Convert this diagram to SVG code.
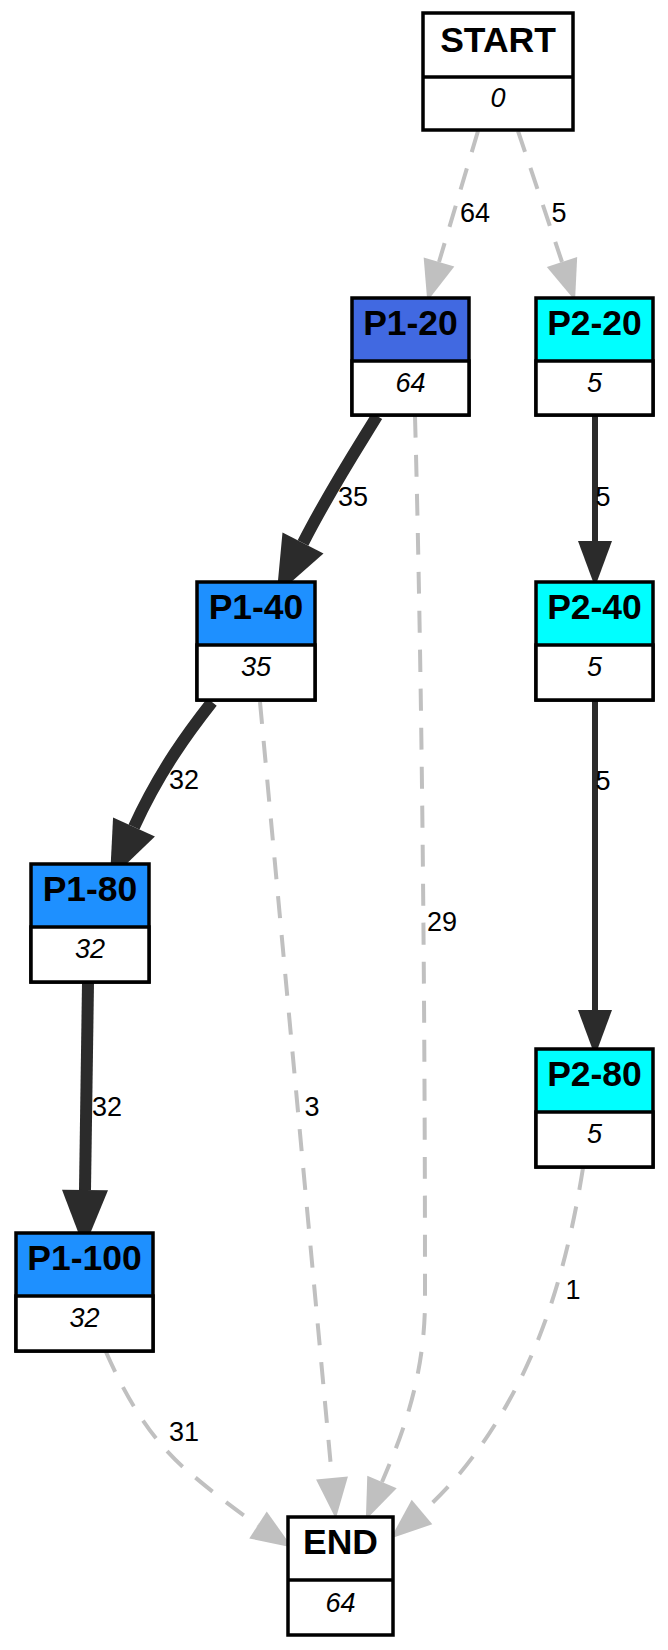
<svg xmlns="http://www.w3.org/2000/svg" width="668" height="1650" viewBox="0 0 668 1650">
<style>
.box{stroke:#000;stroke-width:3.5}
.div{stroke:#000;stroke-width:3.5}
.t{font-family:"Liberation Sans",Arial,sans-serif;font-weight:bold;font-size:35.5px;text-anchor:middle;fill:#000}
.n{font-family:"Liberation Sans",Arial,sans-serif;font-style:italic;font-size:27px;text-anchor:middle;fill:#000}
.l{font-family:"Liberation Sans",Arial,sans-serif;font-size:27px;text-anchor:middle;fill:#000}
.g{fill:none;stroke:#c0c0c0;stroke-width:4;stroke-dasharray:22,17;marker-end:url(#ag)}
.k{fill:none;stroke:#2b2b2b;stroke-width:12;marker-end:url(#ak)}
.m{fill:none;stroke:#2b2b2b;stroke-width:6;marker-end:url(#am)}
</style>
<defs>
<marker id="ag" markerUnits="userSpaceOnUse" orient="auto" refX="0" refY="0" markerWidth="60" markerHeight="60" viewBox="-2 -30 60 60" overflow="visible"><path d="M0,-16 L41,0 L0,16 z" fill="#c0c0c0"/></marker>
<marker id="am" markerUnits="userSpaceOnUse" orient="auto" refX="0" refY="0" markerWidth="60" markerHeight="60" viewBox="-2 -30 60 60" overflow="visible"><path d="M0,-17 L46,0 L0,17 z" fill="#2b2b2b"/></marker>
<marker id="ak" markerUnits="userSpaceOnUse" orient="auto" refX="0" refY="0" markerWidth="70" markerHeight="70" viewBox="-2 -35 70 70" overflow="visible"><path d="M0,-23 L58,0 L0,23 z" fill="#2b2b2b"/></marker>
</defs>
<rect width="668" height="1650" fill="#fff"/>
<g id="edges">
<path class="g" d="M478,131 L439,262"/>
<text class="l" x="475" y="222">64</text>
<path class="g" d="M518,131 L562,262"/>
<text class="l" x="559" y="222">5</text>
<path class="k" d="M377,416 C360,444 330,490 303,543"/>
<text class="l" x="353" y="506">35</text>
<path class="g" d="M415,416 C420,600 425,900 425,1300 C425,1380 400,1440 382,1482"/>
<text class="l" x="442" y="931">29</text>
<path class="m" d="M595,416 L595,541"/>
<text class="l" x="603" y="506">5</text>
<path class="k" d="M212,702 C190,730 160,770 134,827"/>
<text class="l" x="184" y="789">32</text>
<path class="g" d="M260,702 L332,1478"/>
<text class="l" x="312" y="1116">3</text>
<path class="k" d="M88,983 L85,1190"/>
<text class="l" x="107" y="1116">32</text>
<path class="m" d="M595,701 L595,1010"/>
<text class="l" x="603" y="790">5</text>
<path class="g" d="M106,1352 C125,1395 150,1440 190,1473 C210,1490 235,1510 258,1525"/>
<text class="l" x="184" y="1441">31</text>
<path class="g" d="M583,1168 C570,1250 550,1320 520,1380 C495,1430 460,1480 422,1512"/>
<text class="l" x="573" y="1299">1</text>
</g>
<g id="START">
<rect class="box" x="423" y="13" width="150" height="117" fill="#fff"/>
<line class="div" x1="423" y1="77" x2="573" y2="77"/>
<text class="t" x="498" y="52">START</text>
<text class="n" x="498" y="107">0</text>
</g>
<g id="P1-20">
<rect class="box" x="352" y="298" width="117" height="117" fill="#4169e1"/>
<rect x="352" y="361" width="117" height="54" fill="#fff" stroke="#000" stroke-width="3.5"/>
<text class="t" x="410.5" y="335">P1-20</text>
<text class="n" x="410.5" y="392">64</text>
</g>
<g id="P2-20">
<rect class="box" x="536" y="298" width="117" height="117" fill="#00ffff"/>
<rect x="536" y="361" width="117" height="54" fill="#fff" stroke="#000" stroke-width="3.5"/>
<text class="t" x="594.5" y="335">P2-20</text>
<text class="n" x="594.5" y="392">5</text>
</g>
<g id="P1-40">
<rect class="box" x="197" y="582" width="118" height="118" fill="#1e90ff"/>
<rect x="197" y="645" width="118" height="55" fill="#fff" stroke="#000" stroke-width="3.5"/>
<text class="t" x="256" y="619">P1-40</text>
<text class="n" x="256" y="676">35</text>
</g>
<g id="P2-40">
<rect class="box" x="536" y="582" width="117" height="118" fill="#00ffff"/>
<rect x="536" y="645" width="117" height="55" fill="#fff" stroke="#000" stroke-width="3.5"/>
<text class="t" x="594.5" y="619">P2-40</text>
<text class="n" x="594.5" y="676">5</text>
</g>
<g id="P1-80">
<rect class="box" x="31" y="864" width="118" height="118" fill="#1e90ff"/>
<rect x="31" y="927" width="118" height="55" fill="#fff" stroke="#000" stroke-width="3.5"/>
<text class="t" x="90" y="901">P1-80</text>
<text class="n" x="90" y="958">32</text>
</g>
<g id="P2-80">
<rect class="box" x="536" y="1049" width="117" height="118" fill="#00ffff"/>
<rect x="536" y="1112" width="117" height="55" fill="#fff" stroke="#000" stroke-width="3.5"/>
<text class="t" x="594.5" y="1086">P2-80</text>
<text class="n" x="594.5" y="1143">5</text>
</g>
<g id="P1-100">
<rect class="box" x="16" y="1233" width="137" height="118" fill="#1e90ff"/>
<rect x="16" y="1296" width="137" height="55" fill="#fff" stroke="#000" stroke-width="3.5"/>
<text class="t" x="84.5" y="1270">P1-100</text>
<text class="n" x="84.5" y="1327">32</text>
</g>
<g id="END">
<rect class="box" x="288" y="1517" width="105" height="118" fill="#fff"/>
<line class="div" x1="288" y1="1580" x2="393" y2="1580"/>
<text class="t" x="340.5" y="1554">END</text>
<text class="n" x="340.5" y="1612">64</text>
</g>
</svg>
